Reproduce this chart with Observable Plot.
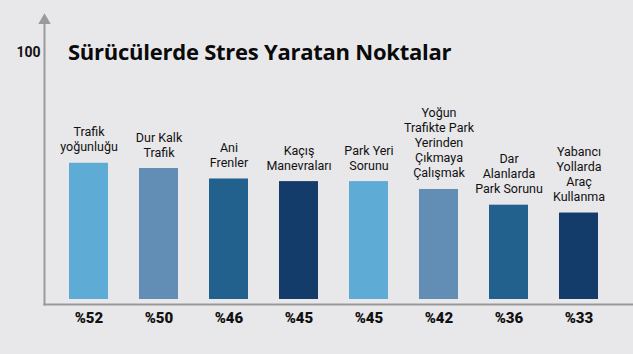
<!DOCTYPE html>
<html>
<head>
<meta charset="utf-8">
<script src="https://cdn.jsdelivr.net/npm/d3@7"></script>
<script src="https://cdn.jsdelivr.net/npm/@observablehq/plot@0.6"></script>
<style>
  html, body { margin: 0; padding: 0; background: #e8e8ea; }
  #wrap { position: relative; width: 633px; height: 354px; overflow: hidden; }
  #title { position: absolute; left: 68px; top: 36px; margin: 0; font-family: "Open Sans", sans-serif; font-weight: 700; font-size: 22px; color: #0a0a0a; letter-spacing: -0.25px; white-space: nowrap; }
</style>
</head>
<body>
<div id="wrap">
  <div id="chart"></div>
  <div id="title">Sürücülerde Stres Yaratan Noktalar</div>
</div>
<script>
const categories = [
  "Trafik\nyoğunluğu",
  "Dur Kalk\nTrafik",
  "Ani\nFrenler",
  "Kaçış\nManevraları",
  "Park Yeri\nSorunu",
  "Yoğun\nTrafikte Park\nYerinden\nÇıkmaya\nÇalışmak",
  "Dar\nAlanlarda\nPark Sorunu",
  "Yabancı\nYollarda\nAraç\nKullanma"
];
const values = [52, 50, 46, 45, 45, 42, 36, 33];
const palette = ["#5eacd6", "#628db5", "#22608e", "#143c6b"];
const yTicks = [100];

const data = categories.map((c, i) => ({ cat: c, value: values[i], color: palette[i % 4], pct: "%" + values[i] }));

const axisColor = "#9a9a9a";

const plot = Plot.plot({
  width: 633,
  height: 354,
  marginLeft: 44,
  marginRight: 1,
  marginTop: 20,
  marginBottom: 50,
  style: { background: "transparent", fontFamily: "Roboto, sans-serif" },
  x: { domain: categories, range: [37, 630], padding: 0.444, axis: null },
  y: { domain: [0, 100], range: [299, 37], axis: null },
  marks: [
    Plot.barY(data, { x: "cat", y: "value", fill: "color" }),
    Plot.text(data, { x: "cat", y: "value", text: "cat", lineAnchor: "bottom", dy: -12, fontSize: 12.5, lineHeight: 1.2, fill: "#111" }),
    Plot.text(data, { x: "cat", y: 0, text: "pct", dy: 19, fontSize: 15, fontWeight: 900, fill: "#111" }),
    Plot.frame({ anchor: "left", stroke: axisColor, strokeWidth: 2 }),
    Plot.frame({ anchor: "bottom", stroke: axisColor, strokeWidth: 2 }),
    Plot.dot([0], { frameAnchor: "top-left", symbol: "triangle", r: 4.6, fill: axisColor, stroke: null }),
    Plot.dot([0], { frameAnchor: "bottom-right", symbol: "triangle", r: 4.6, rotate: 90, dx: 5, fill: axisColor, stroke: null }),
    Plot.axisY(yTicks, { anchor: "left", label: null, tickSize: 0, tickPadding: 4, dy: 15, fontSize: 14, fontWeight: 700, fill: "#111", tickFormat: d => String(d) })
  ]
});
document.getElementById("chart").appendChild(plot);
</script>
</body>
</html>
